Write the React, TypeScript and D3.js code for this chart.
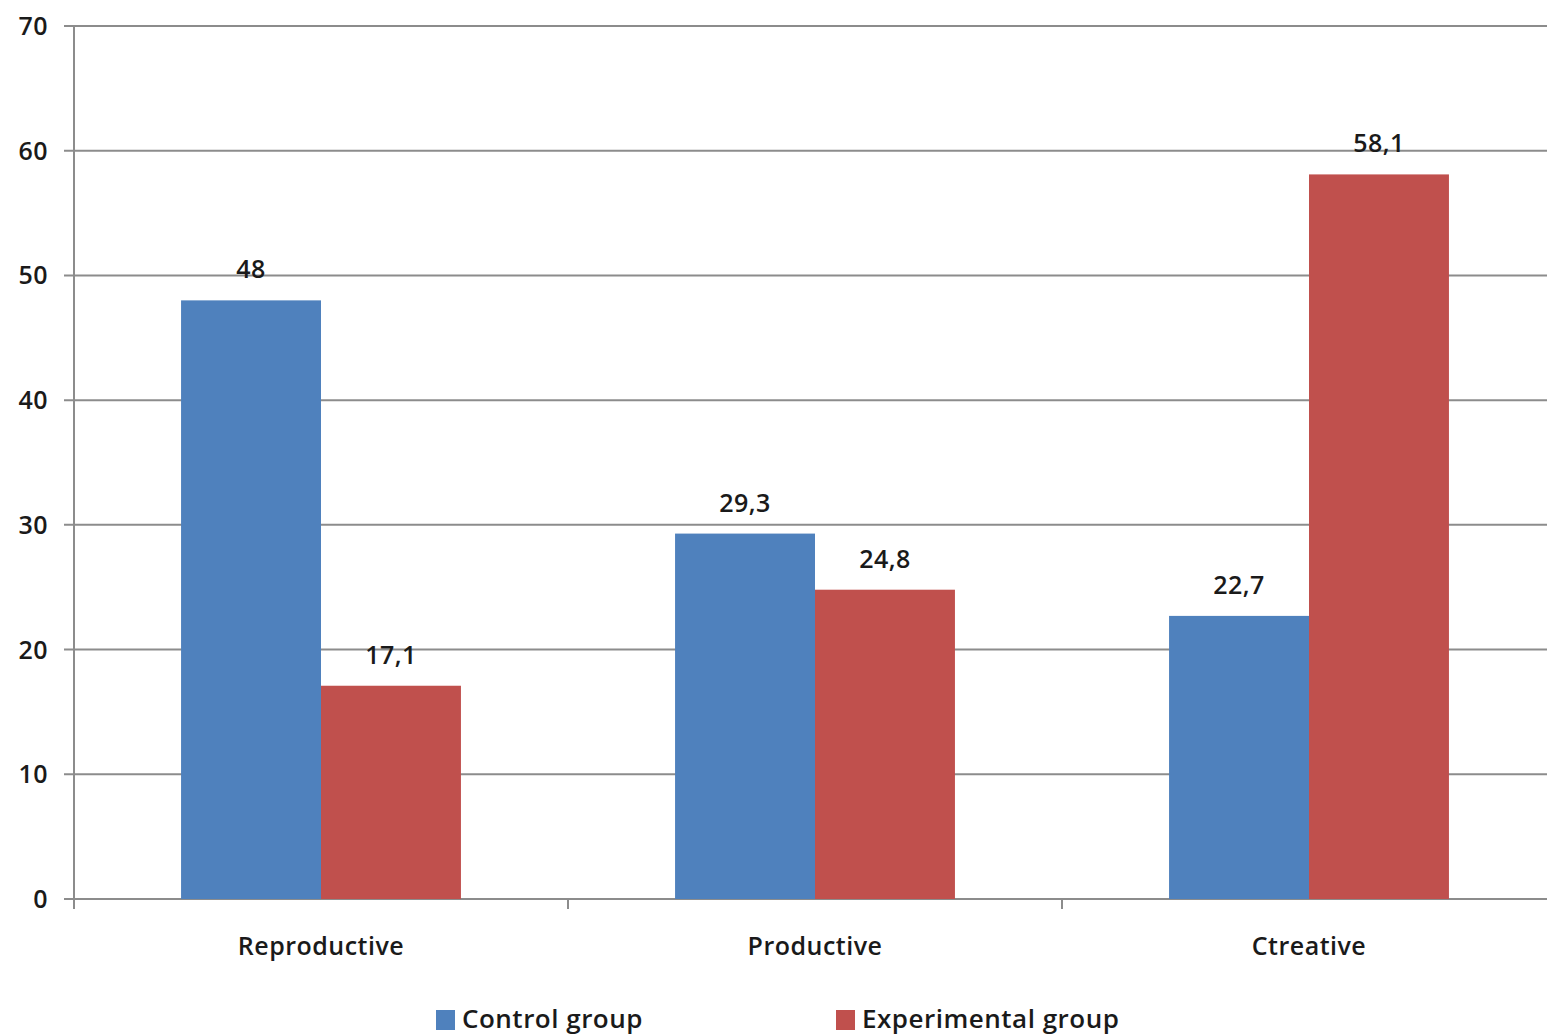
import React, { useEffect, useRef } from "react";
import * as d3 from "d3";

const categories = ["Reproductive", "Productive", "Ctreative"];
const seriesNames = ["Control group", "Experimental group"];
const controlValues = [48, 29.3, 22.7];
const experimentalValues = [17.1, 24.8, 58.1];
const yTicks = [0, 10, 20, 30, 40, 50, 60, 70];
const colors = ["#4F81BD", "#C0504D"];

const W = 1547;
const H = 1035;
const fmt = (v: number) => String(v).replace(".", ",");

const App = () => {
  const ref = useRef<SVGSVGElement>(null);

  useEffect(() => {
    document.body.style.margin = "0";
    const svg = d3.select(ref.current);
    svg.selectAll("*").remove();

    const left = 74;
    const x = d3.scaleBand<string>().domain(categories).range([left, left + 3 * 494]).padding(0);
    const xi = d3.scaleBand<string>().domain(seriesNames).range([0, x.bandwidth()]).paddingInner(0).paddingOuter(0.765);
    const y = d3.scaleLinear().domain([0, 70]).range([899, 26]);

    const font = "'Open Sans', 'DejaVu Sans', sans-serif";
    const textColor = "#1a1a1a";
    const txt = (sel: any, size: number) =>
      sel.attr("font-family", font)
        .attr("font-size", size)
        .attr("font-weight", 600)
        .attr("letter-spacing", 0.5)
        .attr("fill", textColor);

    // gridlines
    svg.append("g")
      .selectAll("line")
      .data(yTicks)
      .enter()
      .append("line")
      .attr("x1", left - 10)
      .attr("x2", W)
      .attr("y1", (d) => y(d))
      .attr("y2", (d) => y(d))
      .attr("stroke", "#8c8c8c")
      .attr("stroke-width", 2);

    // y axis line
    svg.append("line")
      .attr("x1", left).attr("x2", left)
      .attr("y1", y(70)).attr("y2", y(0) + 10)
      .attr("stroke", "#8c8c8c").attr("stroke-width", 2);

    // x ticks at band boundaries
    svg.append("g")
      .selectAll("line")
      .data(categories.slice(1))
      .enter()
      .append("line")
      .attr("x1", (d) => x(d)!)
      .attr("x2", (d) => x(d)!)
      .attr("y1", y(0))
      .attr("y2", y(0) + 10)
      .attr("stroke", "#8c8c8c").attr("stroke-width", 2);

    // y tick labels
    txt(svg.append("g")
      .selectAll("text")
      .data(yTicks)
      .enter()
      .append("text")
      .attr("x", 48)
      .attr("y", (d) => y(d) + 9)
      .attr("text-anchor", "end")
      .text((d) => d), 25);

    const seriesData = [controlValues, experimentalValues];
    seriesData.forEach((vals, si) => {
      const g = svg.append("g");
      g.selectAll("rect")
        .data(vals)
        .enter()
        .append("rect")
        .attr("x", (_, i) => x(categories[i])! + xi(seriesNames[si])!)
        .attr("width", xi.bandwidth())
        .attr("y", (d) => y(d))
        .attr("height", (d) => y(0) - y(d))
        .attr("fill", colors[si]);
      txt(g.selectAll("text")
        .data(vals)
        .enter()
        .append("text")
        .attr("x", (_, i) => x(categories[i])! + xi(seriesNames[si])! + xi.bandwidth() / 2)
        .attr("y", (d) => y(d) - 22)
        .attr("text-anchor", "middle")
        .text((d) => fmt(d)), 25);
    });

    // category labels
    txt(svg.append("g")
      .selectAll("text")
      .data(categories)
      .enter()
      .append("text")
      .attr("x", (d) => x(d)! + x.bandwidth() / 2)
      .attr("y", 955)
      .attr("text-anchor", "middle")
      .text((d) => d), 25);

    // legend
    const legendX = [436, 836];
    const lg = svg.append("g");
    seriesNames.forEach((name, i) => {
      lg.append("rect")
        .attr("x", legendX[i]).attr("y", 1010)
        .attr("width", 19).attr("height", 20)
        .attr("fill", colors[i]);
      txt(lg.append("text")
        .attr("x", legendX[i] + 26)
        .attr("y", 1028)
        .text(name), 26);
    });
  }, []);

  return <svg ref={ref} width={W} height={H} style={{ display: "block", background: "#fff" }} />;
};

export default App;
